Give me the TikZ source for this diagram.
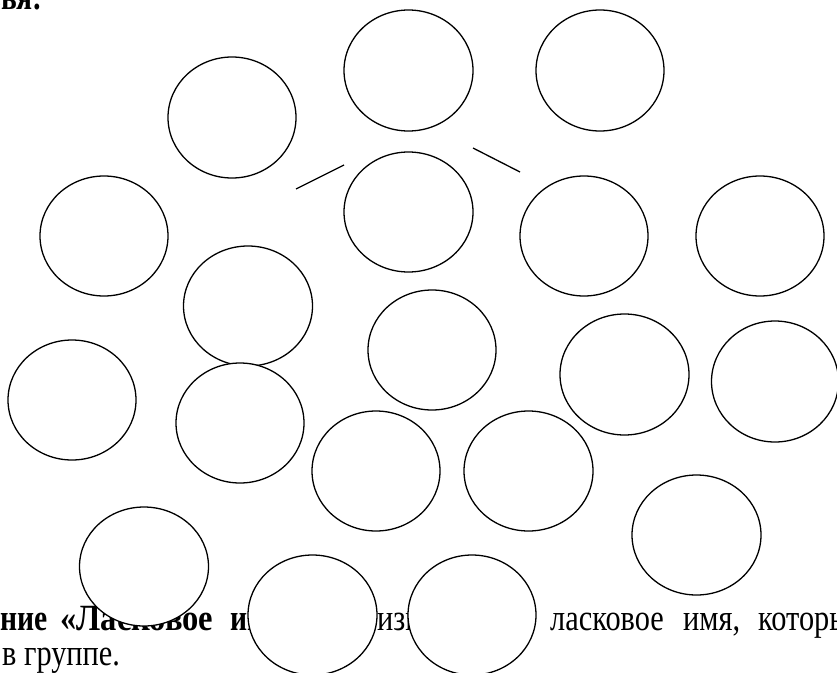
\documentclass[tikz,border=0pt]{standalone}
\usepackage{fontspec}
\setmainfont{Liberation Serif}
\usepackage{graphicx}
\begin{document}
\begin{tikzpicture}[x=1pt,y=-1pt,
  ring/.style={draw=black,line width=1.3pt,fill=white},
  txt/.style={anchor=base west,inner sep=0pt,font=\fontsize{37}{37}\selectfont},
  btxt/.style={txt,font=\fontsize{37}{37}\selectfont\bfseries},
  stroke/.style={draw=black,line width=1.3pt}]
\useasboundingbox (0,0) rectangle (837,672);
\clip (0,0) rectangle (837,672);
% text (under the circles)
\node[btxt] (t0) at (-15,9) {\scalebox{0.8}[1]{вья:}};
\node[btxt] (t1) at (0,630) {\scalebox{0.8}[1]{ние}};
\node[btxt] (t2) at (60,630) {\scalebox{0.88}[1]{«Ласковое}};
\node[btxt] (t3) at (230,630) {\scalebox{0.8}[1]{имя»}};
\node[txt] (t4) at (377,630) {\scalebox{0.82}[1]{износит}};
\node[txt] (t5) at (550,630) {\scalebox{0.82}[1]{ласковое}};
\node[txt] (t6) at (683,630) {\scalebox{0.82}[1]{имя,}};
\node[txt] (t7) at (758,630) {\scalebox{0.82}[1]{которым}};
\node[txt] (t8) at (2,665) {\scalebox{0.82}[1]{в группе.}};
% short strokes
\coordinate (a1) at (296,189);
\coordinate (a2) at (344,165);
\coordinate (b1) at (473,148);
\coordinate (b2) at (520,172);
\draw[stroke] (a1) -- (a2);
\draw[stroke] (b1) -- (b2);
% circles
\path[ring] (232,117.5) ellipse [x radius=64,y radius=60.5];
\path[ring] (408.5,70.5) ellipse [x radius=64.5,y radius=60.5];
\path[ring] (600,70.5) ellipse [x radius=64,y radius=60.5];
\path[ring] (408.5,212) ellipse [x radius=64.5,y radius=60];
\path[ring] (584,236) ellipse [x radius=64,y radius=60];
\path[ring] (104,236) ellipse [x radius=64,y radius=60];
\path[ring] (760,236) ellipse [x radius=64,y radius=60];
\path[ring] (248,306) ellipse [x radius=64.5,y radius=60];
\path[ring] (432,350) ellipse [x radius=64,y radius=60];
\path[ring] (624.5,374.5) ellipse [x radius=64.5,y radius=60.5];
\path[ring] (775,381.5) ellipse [x radius=63.5,y radius=60.5];
\path[ring] (72,400) ellipse [x radius=64,y radius=60];
\path[ring] (240,423) ellipse [x radius=64,y radius=60];
\path[ring] (376,471) ellipse [x radius=64,y radius=60];
\path[ring] (528.5,471) ellipse [x radius=64.5,y radius=60];
\path[ring] (144,566.5) ellipse [x radius=64.5,y radius=59.5];
\path[ring] (696.5,535) ellipse [x radius=64.5,y radius=60];
\path[ring] (312.5,615) ellipse [x radius=64.5,y radius=60];
\path[ring] (472,615) ellipse [x radius=64,y radius=60];
\end{tikzpicture}
\end{document}
